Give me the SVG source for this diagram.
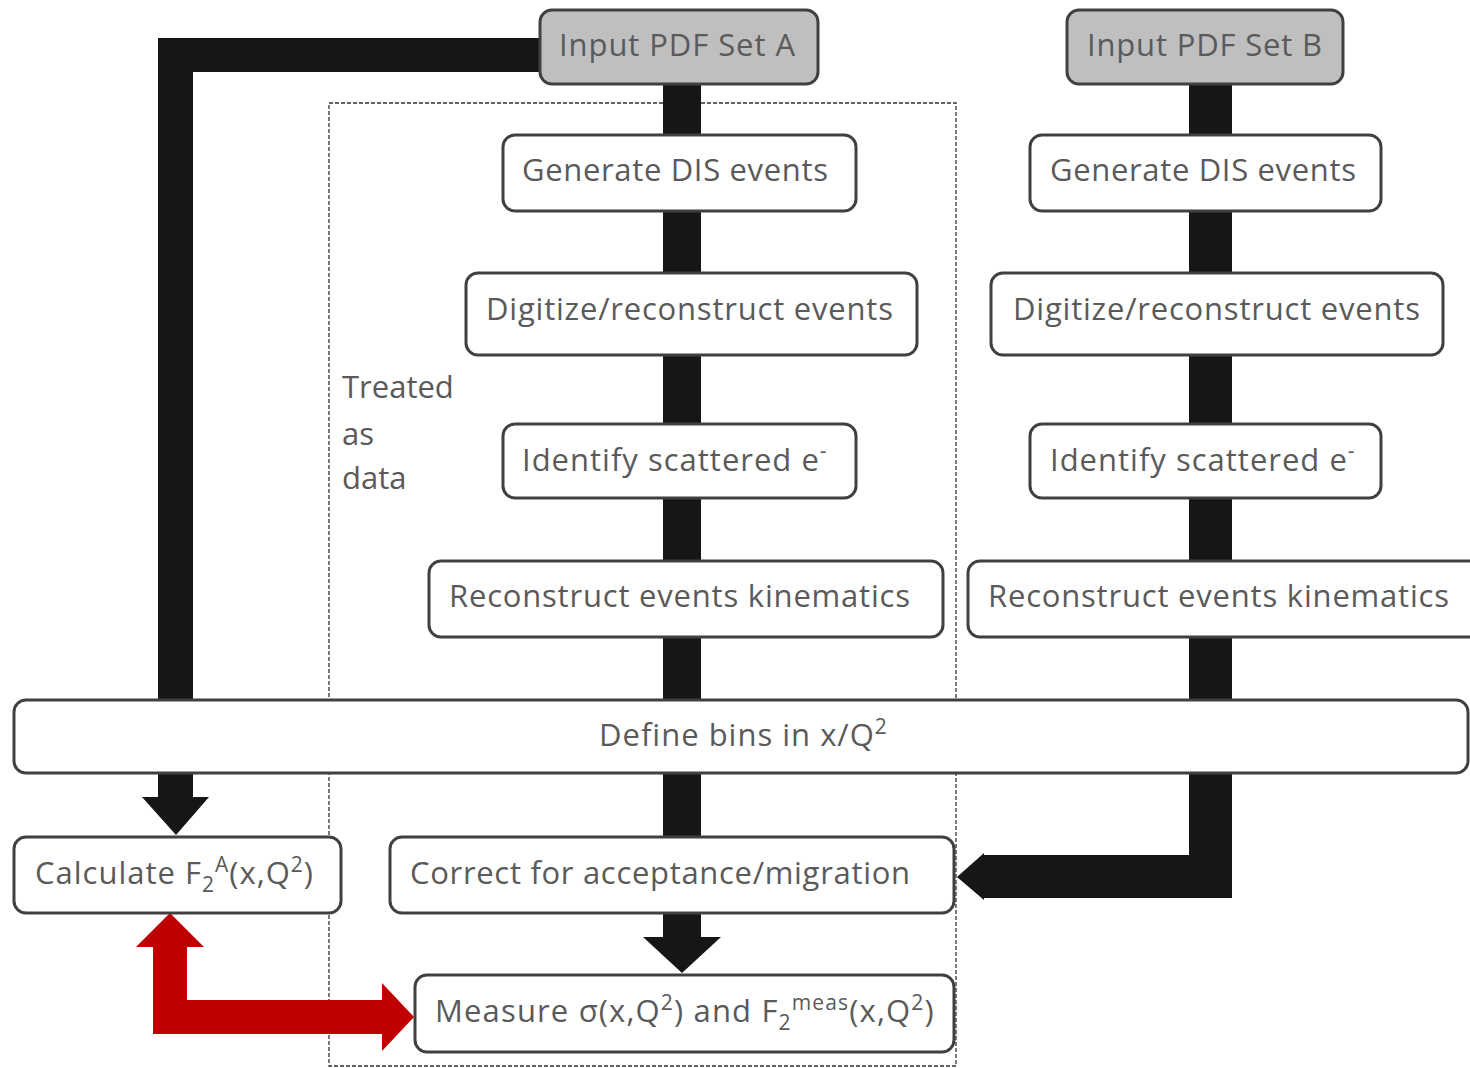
<svg xmlns="http://www.w3.org/2000/svg" width="1470" height="1068" viewBox="0 0 1470 1068">
<style>
  .box { fill: #ffffff; stroke: #404040; stroke-width: 3; }
  .input { fill: #bfbfbf; stroke: #404040; stroke-width: 3; }
  .lbl { font-family: "Open Sans", "Liberation Sans", sans-serif; font-size: 31px; fill: #5a5a5a; }
  .sp { letter-spacing: 1px; }
  .sup { font-size: 21px; }
  .bar { fill: #161616; }
  .red { fill: #c00000; }
</style>
<rect width="1470" height="1068" fill="#ffffff"/>
<g id="data-region">
  <rect x="329" y="103" width="627" height="963" fill="none" stroke="#333333" stroke-width="1.3" stroke-dasharray="4 2"/>
  <text class="lbl" x="342" y="398">Treated</text>
  <text class="lbl" x="342" y="445">as</text>
  <text class="lbl" x="342" y="489">data</text>
</g>
<g id="connectors">
  <rect class="bar" x="663" y="84" width="38" height="753"/>
  <rect class="bar" x="663" y="912" width="38" height="26"/>
  <polygon class="bar" points="643,937 721,937 682,973"/>
  <polygon class="bar" points="1189,84 1232,84 1232,898 984,898 984,900 957,877 984,853 984,855 1189,855"/>
  <polygon class="bar" points="560,38 560,72 193,72 193,797 209,797 176,835 142,797 158,797 158,38"/>
  <polygon class="red" points="170,913 204,947 187,947 187,1000 382,1000 382,983 414,1017 382,1051 382,1034 153,1034 153,947 136,947"/>
</g>
<g id="input-a">
  <rect class="input" x="540" y="10" width="278" height="74" rx="12"/>
  <text class="lbl" x="559" y="56" textLength="236" lengthAdjust="spacing">Input PDF Set A</text>
</g>
<g id="input-b">
  <rect class="input" x="1067" y="10" width="276" height="74" rx="12"/>
  <text class="lbl" x="1087" y="56" textLength="235" lengthAdjust="spacing">Input PDF Set B</text>
</g>
<g id="generate-a">
  <rect class="box" x="503" y="135" width="353" height="76" rx="12"/>
  <text class="lbl" x="522" y="181" textLength="306" lengthAdjust="spacing">Generate DIS events</text>
</g>
<g id="generate-b">
  <rect class="box" x="1030" y="135" width="351" height="76" rx="12"/>
  <text class="lbl" x="1050" y="181" textLength="306" lengthAdjust="spacing">Generate DIS events</text>
</g>
<g id="digitize-a">
  <rect class="box" x="466" y="273" width="451" height="82" rx="12"/>
  <text class="lbl" x="486" y="320" textLength="407" lengthAdjust="spacing">Digitize/reconstruct events</text>
</g>
<g id="digitize-b">
  <rect class="box" x="991" y="273" width="452" height="82" rx="12"/>
  <text class="lbl" x="1013" y="320" textLength="407" lengthAdjust="spacing">Digitize/reconstruct events</text>
</g>
<g id="identify-a">
  <rect class="box" x="503" y="424" width="353" height="74" rx="12"/>
  <text class="lbl sp" x="522" y="471">Identify scattered e<tspan class="sup" dy="-13">-</tspan></text>
</g>
<g id="identify-b">
  <rect class="box" x="1030" y="424" width="351" height="74" rx="12"/>
  <text class="lbl sp" x="1050" y="471">Identify scattered e<tspan class="sup" dy="-13">-</tspan></text>
</g>
<g id="kinematics-a">
  <rect class="box" x="429" y="561" width="514" height="76" rx="12"/>
  <text class="lbl" x="449" y="607" textLength="461" lengthAdjust="spacing">Reconstruct events kinematics</text>
</g>
<g id="kinematics-b">
  <rect class="box" x="968" y="561" width="520" height="76" rx="12"/>
  <text class="lbl" x="988" y="607" textLength="461" lengthAdjust="spacing">Reconstruct events kinematics</text>
</g>
<g id="define-bins">
  <rect class="box" x="14" y="700" width="1454" height="73" rx="12"/>
  <text class="lbl sp" x="599" y="746">Define bins in x/Q<tspan class="sup" dy="-12">2</tspan></text>
</g>
<g id="calculate">
  <rect class="box" x="14" y="837" width="327" height="76" rx="12"/>
  <text class="lbl sp" x="35" y="884">Calculate F<tspan class="sup" dy="8">2</tspan><tspan class="sup" dy="-20">A</tspan><tspan dy="12">(x,Q</tspan><tspan class="sup" dy="-12">2</tspan><tspan dy="12">)</tspan></text>
</g>
<g id="correct">
  <rect class="box" x="390" y="837" width="564" height="76" rx="12"/>
  <text class="lbl" x="410" y="884" textLength="500" lengthAdjust="spacing">Correct for acceptance/migration</text>
</g>
<g id="measure">
  <rect class="box" x="415" y="975" width="539" height="77" rx="12"/>
  <text class="lbl" x="435" y="1022" style="letter-spacing:1.15px">Measure σ(x,Q<tspan class="sup" dy="-12">2</tspan><tspan dy="12">) and F</tspan><tspan class="sup" dy="8">2</tspan><tspan class="sup" dy="-20">meas</tspan><tspan dy="12">(x,Q</tspan><tspan class="sup" dy="-12">2</tspan><tspan dy="12">)</tspan></text>
</g>
</svg>
